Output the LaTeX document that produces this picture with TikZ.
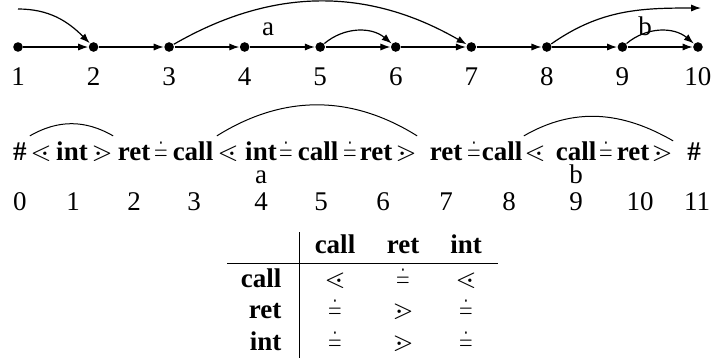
\documentclass[tikz,border=0pt]{standalone}
\usepackage{amssymb}
\usepackage{fontspec}
\setmainfont{Liberation Serif}
\usetikzlibrary{arrows.meta}
\newcommand{\sdoteq}{\scalebox{0.62}[1]{$\doteq$}}

\begin{document}
\begin{tikzpicture}[x=0.5pt, y=-0.5pt, line width=0.6pt,
  font=\fontsize{13.5}{16}\selectfont,
  >={Latex[length=5pt,width=3.6pt]},
  vtx/.style={circle, fill, inner sep=0pt, minimum size=4.8pt},
  num/.style={anchor=base, inner sep=0pt},
  tok/.style={anchor=base, inner sep=0pt, font=\fontsize{13.5}{16}\selectfont\bfseries},
  arc/.style={line width=0.5pt}]
  \useasboundingbox (0,0) rectangle (711,360);

  % the path 1..10
  \foreach \i in {1,...,10}{
    \node[vtx] (v\i) at ({18+75.55*(\i-1)},47) {};
    \node[num] (n\i) at ({18+75.55*(\i-1)},85) {\i};
  }
  \foreach \i [evaluate=\i as \j using int(\i+1)] in {1,...,9}
    \draw[->] (v\i) -- (v\j);

  \coordinate (src) at (18,9);
  \coordinate (dst) at (701,8);
  \draw[->] (src) to[out=0, in=135] (v2);
  \draw[->] (v3) to[out=30, in=150] (v7);
  \draw[->] (v5) to[out=40, in=140] (v6);
  \draw[->] (v8) to[out=35, in=180] (dst);
  \draw[->] (v9) to[out=40, in=140] (v10);
  \node[num] (ta) at (268,35) {a};
  \node[num] (tb) at (645,35) {b};

  % the word with its relations
  \foreach \x/\t [count=\k] in {20/\#, 41/$\lessdot$, 72/int, 102/$\gtrdot$,
      134/ret, 161/\sdoteq, 193/call, 228/$\lessdot$, 261/int, 286/\sdoteq,
      318/call, 350/\sdoteq, 376/ret, 406/$\gtrdot$, 446/ret, 474/\sdoteq,
      502/call, 535/$\lessdot$, 576/call, 606/\sdoteq, 633/ret, 662/$\gtrdot$,
      694/\#}
    \node[tok] (t\k) at (\x,160) {\t};
  \draw[arc] ([yshift=4.5pt]t2.north west) to[out=30, in=150] ([yshift=4.5pt]t4.north east);
  \draw[arc] ([yshift=4.5pt]t8.north west) to[out=32, in=148] ([yshift=4.5pt]t14.north east);
  \draw[arc] ([yshift=4.5pt]t18.north west) to[out=30, in=150] ([yshift=2pt]t22.north east);

  \foreach \x/\i in {20/0, 73/1, 134/2, 194/3, 261/4, 321/5, 383/6, 446/7,
      509/8, 576/9, 640/10, 697/11}
    \node[num] (p\i) at (\x,210) {\i};
  \node[num] (wa) at (261,183) {a};
  \node[num] (wb) at (576,183) {b};

  % precedence table
  \node[tok] (hcall) at (335,253) {call};
  \node[tok] (hret)  at (403,253) {ret};
  \node[tok] (hint)  at (466,253) {int};
  \foreach \y/\r/\a/\b/\c in {287/call/$\lessdot$/\sdoteq/$\lessdot$,
      318/ret/\sdoteq/$\gtrdot$/\sdoteq, 350/int/\sdoteq/$\gtrdot$/\sdoteq}{
    \node[tok, anchor=base east] (r\r) at (282,\y) {\r};
    \node[num] (e\r1) at (335,\y) {\a};
    \node[num] (e\r2) at (403,\y) {\b};
    \node[num] (e\r3) at (466,\y) {\c};
  }
  \draw[line width=0.5pt] (299,232) -- (299,358);
  \draw[line width=0.5pt] (227,263) -- (498,263);
\end{tikzpicture}
\end{document}
